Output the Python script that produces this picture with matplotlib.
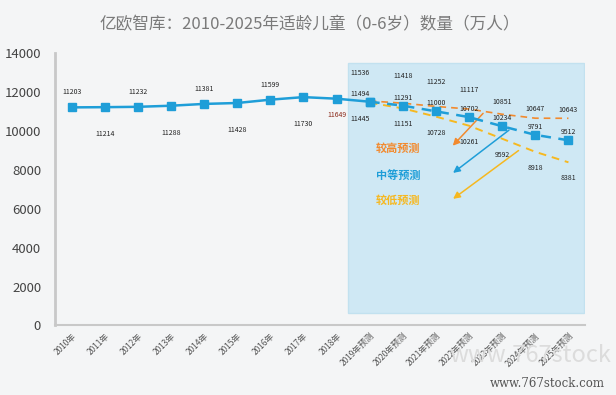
import numpy as np
import matplotlib.pyplot as plt
from matplotlib.patches import Rectangle

plt.rcParams['font.family'] = ['Noto Sans CJK SC', 'DejaVu Sans']

years = ['2010年', '2011年', '2012年', '2013年', '2014年', '2015年', '2016年', '2017年', '2018年',
         '2019年预测', '2020年预测', '2021年预测', '2022年预测', '2023年预测', '2024年预测', '2025年预测']
hist = [11203, 11214, 11232, 11288, 11381, 11428, 11599, 11730, 11649]
mid = [11494, 11291, 11000, 10702, 10234, 9791, 9512]
high = [11536, 11418, 11252, 11117, 10851, 10647, 10643]
low = [11445, 11151, 10728, 10261, 9592, 8918, 8381]

blue = '#1f9ed8'
orange = '#f28a2e'
yellow = '#f6b820'
bg = '#f4f5f6'

fig = plt.figure(figsize=(6.16, 3.95), dpi=100, facecolor=bg)
ax = fig.add_axes([0.0893, 0.176, 0.8604, 0.69])
ax.set_facecolor(bg)

x = np.arange(len(years))
xh = x[:len(hist)]
xf = x[len(hist):]

# 预测区背景
ax.add_patch(Rectangle((8.33, 640), 7.15, 12820, facecolor='#cfe8f4', edgecolor='#c2e1ef', lw=1, zorder=0))

ax.plot(np.append(xh, xf[0]), hist + mid[:1], color=blue, lw=1.8, marker='s', ms=5.3, zorder=4)
ax.plot(xf, high, color=orange, lw=1.2, ls=(0, (4, 3)), zorder=3)
ax.plot(xf, low, color=yellow, lw=1.4, ls=(0, (4, 3)), zorder=3)
ax.plot(xf, mid, color=blue, lw=1.8, ls=(0, (4, 3)), marker='s', ms=5.3, zorder=4)

# 数值标签
for i, v in enumerate(hist):
    if i == len(hist) - 1:
        dy, c = -16, '#8b2a1a'
    elif i % 2 == 0:
        dy, c = 15, '#222222'
    else:
        dy, c = -27, '#222222'
    ax.annotate(str(v), (xh[i], v), xytext=(0, dy), textcoords='offset pixels',
                ha='center', va='center', fontsize=5, color=c)

high_dy = [28, 27, 24, 19, 12, 9, 8]
for i in range(len(xf)):
    dx = -10 if i == 0 else 0
    ax.annotate(str(high[i]), (xf[i], high[i]), xytext=(dx, high_dy[i]), textcoords='offset pixels',
                ha='center', va='center', fontsize=5, color='#222222')
    ax.annotate(str(mid[i]), (xf[i], mid[i]), xytext=(dx, 8), textcoords='offset pixels',
                ha='center', va='center', fontsize=5, color='#222222')
    ax.annotate(str(low[i]), (xf[i], low[i]), xytext=(dx, -16), textcoords='offset pixels',
                ha='center', va='center', fontsize=5, color='#222222')

# 图例文字与箭头
ax.text(9.85, 9080, '较高预测', color=orange, fontsize=8, fontweight='bold', ha='center', va='center')
ax.text(9.85, 7700, '中等预测', color=blue, fontsize=8, fontweight='bold', ha='center', va='center')
ax.text(9.85, 6400, '较低预测', color=yellow, fontsize=8, fontweight='bold', ha='center', va='center')
for (x0, y0, x1, y1, c) in [(12.48, 11000, 11.45, 9130, orange),
                            (13.27, 10120, 11.45, 7750, blue),
                            (13.56, 9070, 11.45, 6420, yellow)]:
    ax.annotate('', xy=(x1, y1), xytext=(x0, y0),
                arrowprops=dict(arrowstyle='-|>', color=c, lw=1.1, mutation_scale=10))

ax.set_xlim(-0.5, 15.5)
ax.set_ylim(0, 14000)
ax.set_yticks(np.arange(0, 14001, 2000))
ax.set_xticks(x)
ax.set_xticklabels(years, rotation=45, ha='right', rotation_mode='anchor', fontsize=6, color='#555555')
ax.tick_params(axis='y', length=0, labelsize=9.5, labelcolor='#444444', pad=10)
ax.tick_params(axis='x', length=0, pad=4)

ax.spines['right'].set_color('none')
ax.spines['top'].set_color('none')
ax.spines['left'].set_color('#c8c8c8')
ax.spines['left'].set_linewidth(2)
ax.spines['bottom'].set_color('#c8c8c8')
ax.spines['bottom'].set_linewidth(1.5)

fig.text(0.503, 0.937, '亿欧智库：2010-2025年适龄儿童（0-6岁）数量（万人）', ha='center', va='center',
         fontsize=12, color='#7a7a7a')

# 水印
fig.text(0.73, 0.1, 'www.767stock', fontsize=17, color='#dcdcdc', ha='left', va='center')
fig.text(0.795, 0.03, 'www.767stock.com', fontsize=8.5, color='#555555', family='DejaVu Serif',
         ha='left', va='center')

fig.savefig('out.png', dpi=100, facecolor=bg)
